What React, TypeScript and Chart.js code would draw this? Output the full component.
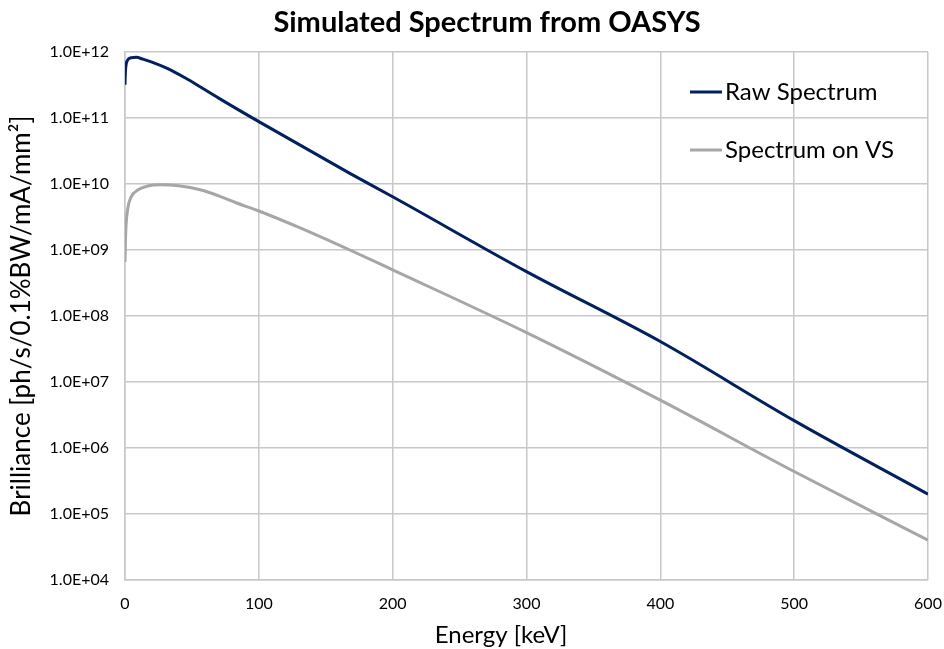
import React, { useEffect, useRef } from "react";
import { Chart, registerables } from "chart.js";

Chart.register(...registerables);

const titleText = "Simulated Spectrum from OASYS";
const xTitle = "Energy [keV]";
const yTitle = "Brilliance [ph/s/0.1%BW/mA/mm\u00B2]";
const seriesNames = ["Raw Spectrum", "Spectrum on VS"];

const rawEnergy = [0, 0.2, 0.8, 2.1, 4.6, 8.4, 13.4, 19.6, 32, 44.5, 57, 70, 100, 168, 200, 300, 400, 500, 600];
const rawBrilliance = [3.2e11, 4.5e11, 6.4e11, 7.6e11, 8.2e11, 8.3e11, 7.8e11, 7.1e11, 5.6e11, 4.1e11, 2.9e11, 2.0e11, 8.8e10, 1.45e10, 6.4e9, 4.7e8, 4.1e7, 2.6e6, 2.0e5];

const vsEnergy = [0, 0.3, 0.8, 2.1, 4.6, 9.5, 17, 27, 40, 57, 70, 83, 100, 130, 168, 200, 300, 400, 500, 600];
const vsBrilliance = [6.6e8, 1.3e9, 2.4e9, 4.3e9, 6.4e9, 8.1e9, 9.3e9, 9.7e9, 9.4e9, 8.1e9, 6.6e9, 5.2e9, 3.9e9, 2.2e9, 1.0e9, 5.0e8, 5.6e7, 5.3e6, 4.4e5, 4.0e4];

const yTickValues = [1e4, 1e5, 1e6, 1e7, 1e8, 1e9, 1e10, 1e11, 1e12];
const yTickLabels = ["1.0E+04", "1.0E+05", "1.0E+06", "1.0E+07", "1.0E+08", "1.0E+09", "1.0E+10", "1.0E+11", "1.0E+12"];
const xTickValues = [0, 100, 200, 300, 400, 500, 600];

const FONT = "Lato, 'Open Sans', sans-serif";

const overlay = {
  id: "overlay",
  afterDatasetsDraw(chart: any) {
    const { ctx, chartArea } = chart;
    ctx.save();
    // legend inside plot area
    ctx.font = `24px ${FONT}`;
    ctx.textBaseline = "middle";
    ctx.textAlign = "left";
    chart.data.datasets.forEach((ds: any, i: number) => {
      const y = chartArea.top + 40 + i * 58;
      const x0 = chartArea.left + 565;
      ctx.strokeStyle = ds.borderColor;
      ctx.lineWidth = 3;
      ctx.beginPath();
      ctx.moveTo(x0, y);
      ctx.lineTo(x0 + 32, y);
      ctx.stroke();
      ctx.fillStyle = "#000000";
      ctx.fillText(ds.label, x0 + 35, y);
    });
    // main title
    ctx.textAlign = "center";
    ctx.fillStyle = "#000000";
    ctx.font = `bold 29px ${FONT}`;
    ctx.fillText(titleText, 487, chartArea.top - 29);
    // x axis title
    ctx.font = `24px ${FONT}`;
    ctx.fillText(xTitle, 501, chartArea.bottom + 55);
    ctx.restore();
  },
};

export default function App() {
  const ref = useRef<HTMLCanvasElement>(null);
  useEffect(() => {
    document.body.style.margin = "0";
    const chart = new Chart(ref.current!, {
      type: "line",
      data: {
        datasets: [
          {
            label: seriesNames[0],
            data: rawEnergy.map((x, i) => ({ x, y: rawBrilliance[i] })),
            borderColor: "#002060",
            borderWidth: 3,
            pointRadius: 0,
            cubicInterpolationMode: "monotone",
            fill: false,
          },
          {
            label: seriesNames[1],
            data: vsEnergy.map((x, i) => ({ x, y: vsBrilliance[i] })),
            borderColor: "#a6a6a6",
            borderWidth: 3,
            pointRadius: 0,
            cubicInterpolationMode: "monotone",
            fill: false,
          },
        ],
      },
      options: {
        animation: false,
        responsive: false,
        layout: { padding: { left: 0, right: 16, top: 52, bottom: 0 } },
        plugins: {
          legend: { display: false },
          tooltip: { enabled: false },
          title: { display: false },
        },
        scales: {
          x: {
            type: "linear",
            min: 0,
            max: 600,
            afterBuildTicks: (axis: any) => {
              axis.ticks = xTickValues.map((v) => ({ value: v }));
            },
            afterFit: (axis: any) => {
              axis.height = 69;
              axis.paddingRight = 0;
              axis.paddingLeft = 0;
            },
            ticks: { color: "#000000", font: { family: FONT, size: 16 }, padding: 14 },
            grid: { color: "#c8c8c8", lineWidth: 1.5, drawTicks: false },
            border: { color: "#c8c8c8", width: 1.5 },
            title: { display: false, text: xTitle },
          },
          y: {
            type: "logarithmic",
            min: 1e4,
            max: 1e12,
            afterBuildTicks: (axis: any) => {
              axis.ticks = yTickValues.map((v) => ({ value: v }));
            },
            afterFit: (axis: any) => {
              axis.width = 125;
              axis.paddingTop = 0;
              axis.paddingBottom = 0;
            },
            ticks: {
              color: "#000000",
              font: { family: FONT, size: 16 },
              padding: 16,
              callback: (v: any) => {
                const idx = yTickValues.indexOf(Number(v));
                return idx >= 0 ? yTickLabels[idx] : "";
              },
            },
            grid: { color: "#c8c8c8", lineWidth: 1.5, drawTicks: false },
            border: { color: "#c8c8c8", width: 1.5 },
            title: {
              display: true,
              text: yTitle,
              color: "#000000",
              font: { family: FONT, size: 26 },
              padding: { top: 6, bottom: 0 },
            },
          },
        },
      },
      plugins: [overlay],
    } as any);
    return () => chart.destroy();
  }, []);
  return <canvas ref={ref} width={944} height={649} style={{ display: "block" }} />;
}
